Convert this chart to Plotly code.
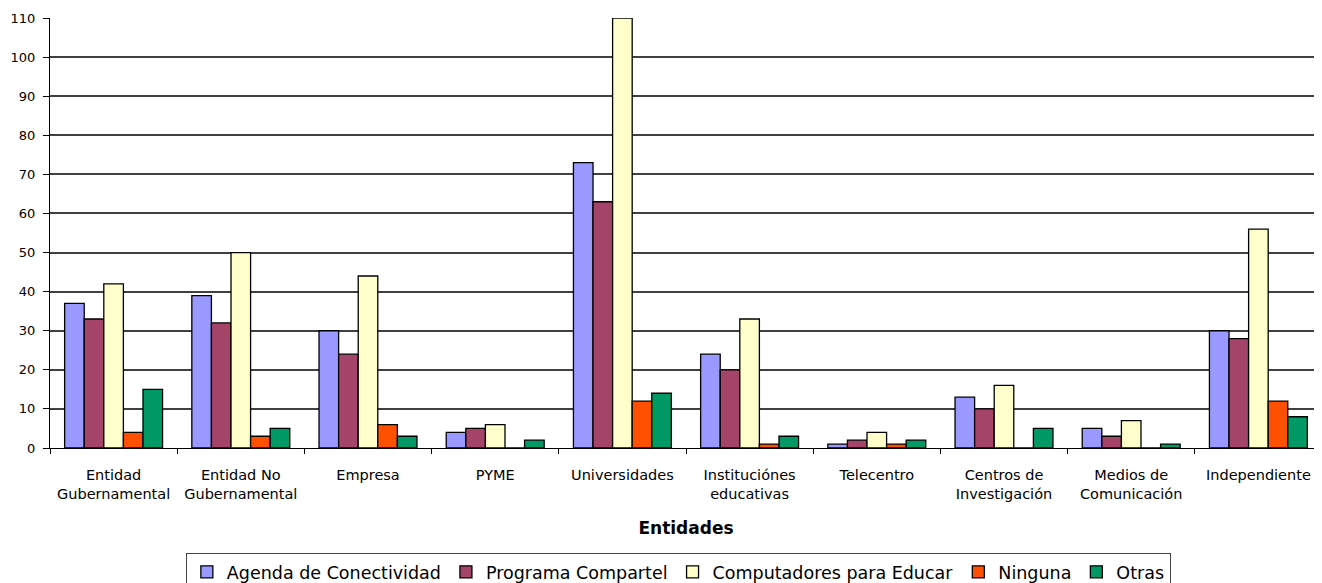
import plotly.graph_objects as go

categories = [
    "Entidad<br>Gubernamental", "Entidad No<br>Gubernamental", "Empresa", "PYME",
    "Universidades", "Instituciónes<br>educativas", "Telecentro",
    "Centros de<br>Investigación", "Medios de<br>Comunicación", "Independiente",
]
agenda = [37, 39, 30, 4, 73, 24, 1, 13, 5, 30]
compartel = [33, 32, 24, 5, 63, 20, 2, 10, 3, 28]
computadores = [42, 50, 44, 6, 110, 33, 4, 16, 7, 56]
ninguna = [4, 3, 6, 0, 12, 1, 1, 0, 0, 12]
otras = [15, 5, 3, 2, 14, 3, 2, 5, 1, 8]

series_names = ["Agenda de Conectividad", "Programa Compartel", "Computadores para Educar", "Ninguna", "Otras"]
series_values = [agenda, compartel, computadores, ninguna, otras]
colors = ["#9999FF", "#A34468", "#FFFFCC", "#FF5000", "#009966"]

y_ticks = list(range(0, 111, 10))
grid_ticks = list(range(10, 101, 10))

fig = go.Figure()
for name, vals, col in zip(series_names, series_values, colors):
    fig.add_trace(go.Bar(
        x=categories, y=vals, name=name,
        marker=dict(color=col, line=dict(color="#000000", width=1.3)),
    ))

# helper axis for interior gridlines (no line at the top)
fig.add_trace(go.Scatter(x=[], y=[], yaxis="y2", showlegend=False, hoverinfo="skip"))

# page body has an 8px margin, so the figure is sized/offset to compensate
fig.update_layout(
    width=1314, height=575,
    margin=dict(l=42, r=0, t=10, b=135, autoexpand=False),
    paper_bgcolor="white", plot_bgcolor="white",
    barmode="group", bargap=0.23, bargroupgap=0,
    font=dict(family="DejaVu Sans", color="#000000"),
    xaxis=dict(
        automargin=False,
        showline=True, linecolor="#000000", linewidth=1,
        ticks="outside", tickson="boundaries", ticklen=5, tickcolor="#000000",
        ticklabelstandoff=14,
        tickfont=dict(family="DejaVu Sans", size=14.5, color="#000000"),
        title=dict(text="<b>Entidades</b>", font=dict(family="DejaVu Sans", size=17), standoff=20),
        showgrid=False, zeroline=False,
    ),
    yaxis=dict(
        automargin=False,
        range=[0, 110], tickvals=y_ticks,
        showline=True, linecolor="#000000", linewidth=1,
        ticks="outside", ticklen=6, tickcolor="#000000",
        ticklabelstandoff=5,
        tickfont=dict(family="DejaVu Sans", size=13, color="#000000"),
        showgrid=False, zeroline=False,
    ),
    yaxis2=dict(
        automargin=False,
        overlaying="y", range=[0, 110], tickvals=grid_ticks,
        showgrid=True, gridcolor="#404040", gridwidth=1.5,
        showticklabels=False, showline=False, zeroline=False, ticks="",
    ),
    legend=dict(
        orientation="h", x=0.494, xanchor="center", y=-0.244, yanchor="top",
        bordercolor="#444444", borderwidth=1, bgcolor="white",
        font=dict(family="DejaVu Sans", size=17.5, color="#000000"),
        itemwidth=30, tracegroupgap=0,
    ),
    showlegend=True,
)

fig.write_html("out.html")
